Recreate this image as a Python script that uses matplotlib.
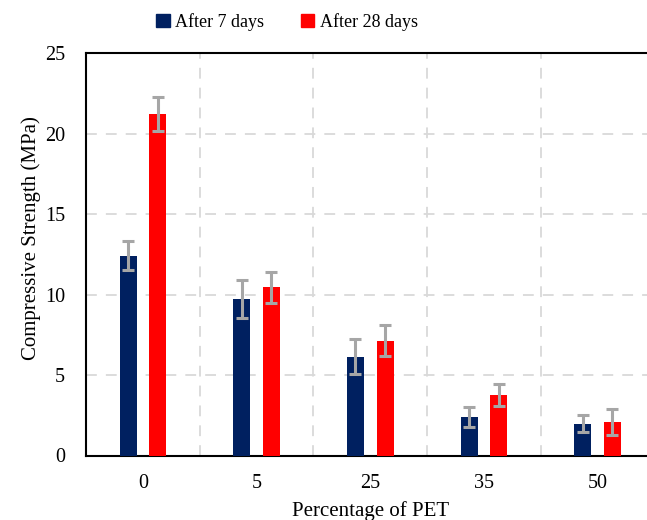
import numpy as np
import matplotlib.pyplot as plt
from matplotlib.patches import Patch

# data
pet = ["0", "5", "25", "35", "50"]
days7 = [12.42, 9.73, 6.14, 2.41, 1.98]
days7_err = [0.92, 1.18, 1.08, 0.62, 0.52]
days28 = [21.24, 10.45, 7.14, 3.74, 2.08]
days28_err = [1.04, 0.95, 0.97, 0.68, 0.80]

plt.rcParams['font.family'] = ['Liberation Serif', 'DejaVu Serif']

fig = plt.figure(figsize=(6.47, 5.2), dpi=100)
# right edge of the plot runs slightly past the figure, like the original crop
ax = fig.add_axes([86/647, 1 - 455.5/520, (654.5 - 86)/647, (455.5 - 53.3)/520])

x = np.arange(len(pet))
w = 0.15
off = 0.13
err_kw = dict(ecolor="#A6A6A6", elinewidth=2.2, capsize=4.5, capthick=2.2)
ax.bar(x - off, days7, w, yerr=days7_err, color="#002060", error_kw=err_kw, zorder=3)
ax.bar(x + off, days28, w, yerr=days28_err, color="#FF0000", error_kw=err_kw, zorder=3)

ax.set_xlim(-0.5, len(pet) - 0.5)
ax.set_ylim(0, 25)
ax.set_yticks(range(0, 26, 5))
ax.set_xticks(x)
ax.set_xticklabels(pet)
ax.tick_params(axis="y", length=0, labelsize=14.5, pad=15)
ax.tick_params(axis="x", length=0, labelsize=14.5, pad=13)

# dashed grid: horizontal at y ticks, vertical between categories
for yv in range(5, 25, 5):
    ax.axhline(yv, color="#D9D9D9", lw=1.3, ls=(0, (6, 5)), zorder=1)
for xv in np.arange(0.5, len(pet) - 0.5, 1):
    ax.axvline(xv, color="#D9D9D9", lw=1.3, ls=(0, (6, 5)), zorder=1)

for s in ["left", "bottom", "top"]:
    ax.spines[s].set_color("black")
    ax.spines[s].set_linewidth(1.5)
ax.spines["right"].set_visible(False)

ax.set_ylabel("Compressive Strength (MPa)", fontsize=15)
ax.yaxis.set_label_coords(-0.08, 0.54)
ax.set_xlabel("Percentage of PET", fontsize=15, labelpad=6)

handles = [Patch(color="#002060", label="After 7 days"),
           Patch(color="#FF0000", label="After 28 days")]
fig.legend(handles=handles, loc="center", bbox_to_anchor=(287/647, 1 - 22/520),
           ncol=2, frameon=False, fontsize=13, handlelength=0.75, handleheight=0.75,
           handletextpad=0.3, columnspacing=2.0)

fig.savefig("out.png", dpi=100)
